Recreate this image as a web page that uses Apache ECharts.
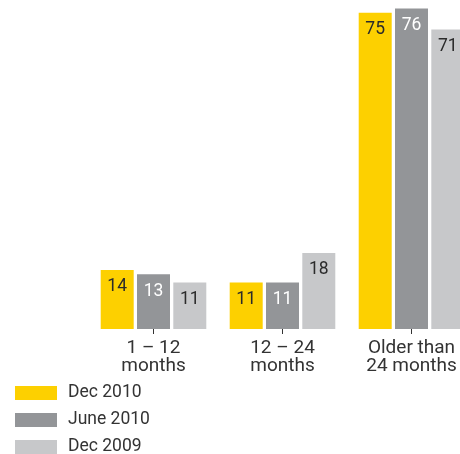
<!DOCTYPE html>
<html>
<head>
<meta charset="utf-8">
<script src="https://cdn.jsdelivr.net/npm/echarts@6/dist/echarts.min.js"></script>
<style>
html,body{margin:0;padding:0;background:#fff;overflow:hidden;width:460px;height:454px;}
#c{width:476px;height:454px;}
</style>
</head>
<body>
<div id="c"></div>
<script>
const categories = ['1 – 12\nmonths', '12 – 24\nmonths', 'Older than\n24 months'];
const seriesNames = ['Dec 2010', 'June 2010', 'Dec 2009'];
const dec2010 = [14, 11, 75];
const june2010 = [13, 11, 76];
const dec2009 = [11, 18, 71];

const colors = ['#FDD000', '#939598', '#C7C8CA'];
const labelColors = ['#2b2b2b', '#ffffff', '#2b2b2b'];
const FONT = 'Roboto';

const chart = echarts.init(document.getElementById('c'), null, {renderer: 'canvas'});
const dataSets = [dec2010, june2010, dec2009];

chart.setOption({
  animation: false,
  backgroundColor: '#ffffff',
  grid: {left: 89, right: 0, top: 0, bottom: 125, containLabel: false},
  legend: {
    orient: 'vertical',
    left: 15,
    top: 384,
    padding: 0,
    height: 80,
    itemWidth: 42,
    itemHeight: 14,
    itemGap: 9,
    icon: 'rect',
    textStyle: {fontFamily: FONT, fontSize: 17.5, lineHeight: 14, color: '#333333', padding: [0, 0, 0, 6]},
    data: seriesNames
  },
  xAxis: {
    type: 'category',
    data: categories,
    axisLine: {show: true, lineStyle: {color: '#ffffff', opacity: 0}},
    axisTick: {show: true, alignWithLabel: true, length: 5, lineStyle: {color: '#333333', width: 1, opacity: 1}},
    axisLabel: {fontFamily: FONT, fontSize: 19, color: '#333333', margin: 10, lineHeight: 18}
  },
  yAxis: {
    type: 'value', min: 0, max: 78, show: false,
    splitLine: {show: false}
  },
  series: dataSets.map((d, i) => ({
    name: seriesNames[i],
    type: 'bar',
    data: d,
    barWidth: 33,
    barGap: '10%',
    itemStyle: {color: colors[i]},
    label: {
      show: true,
      position: 'insideTop',
      distance: 8,
      fontFamily: FONT,
      fontSize: 17.5,
      color: labelColors[i]
    }
  }))
});
</script>
</body>
</html>
